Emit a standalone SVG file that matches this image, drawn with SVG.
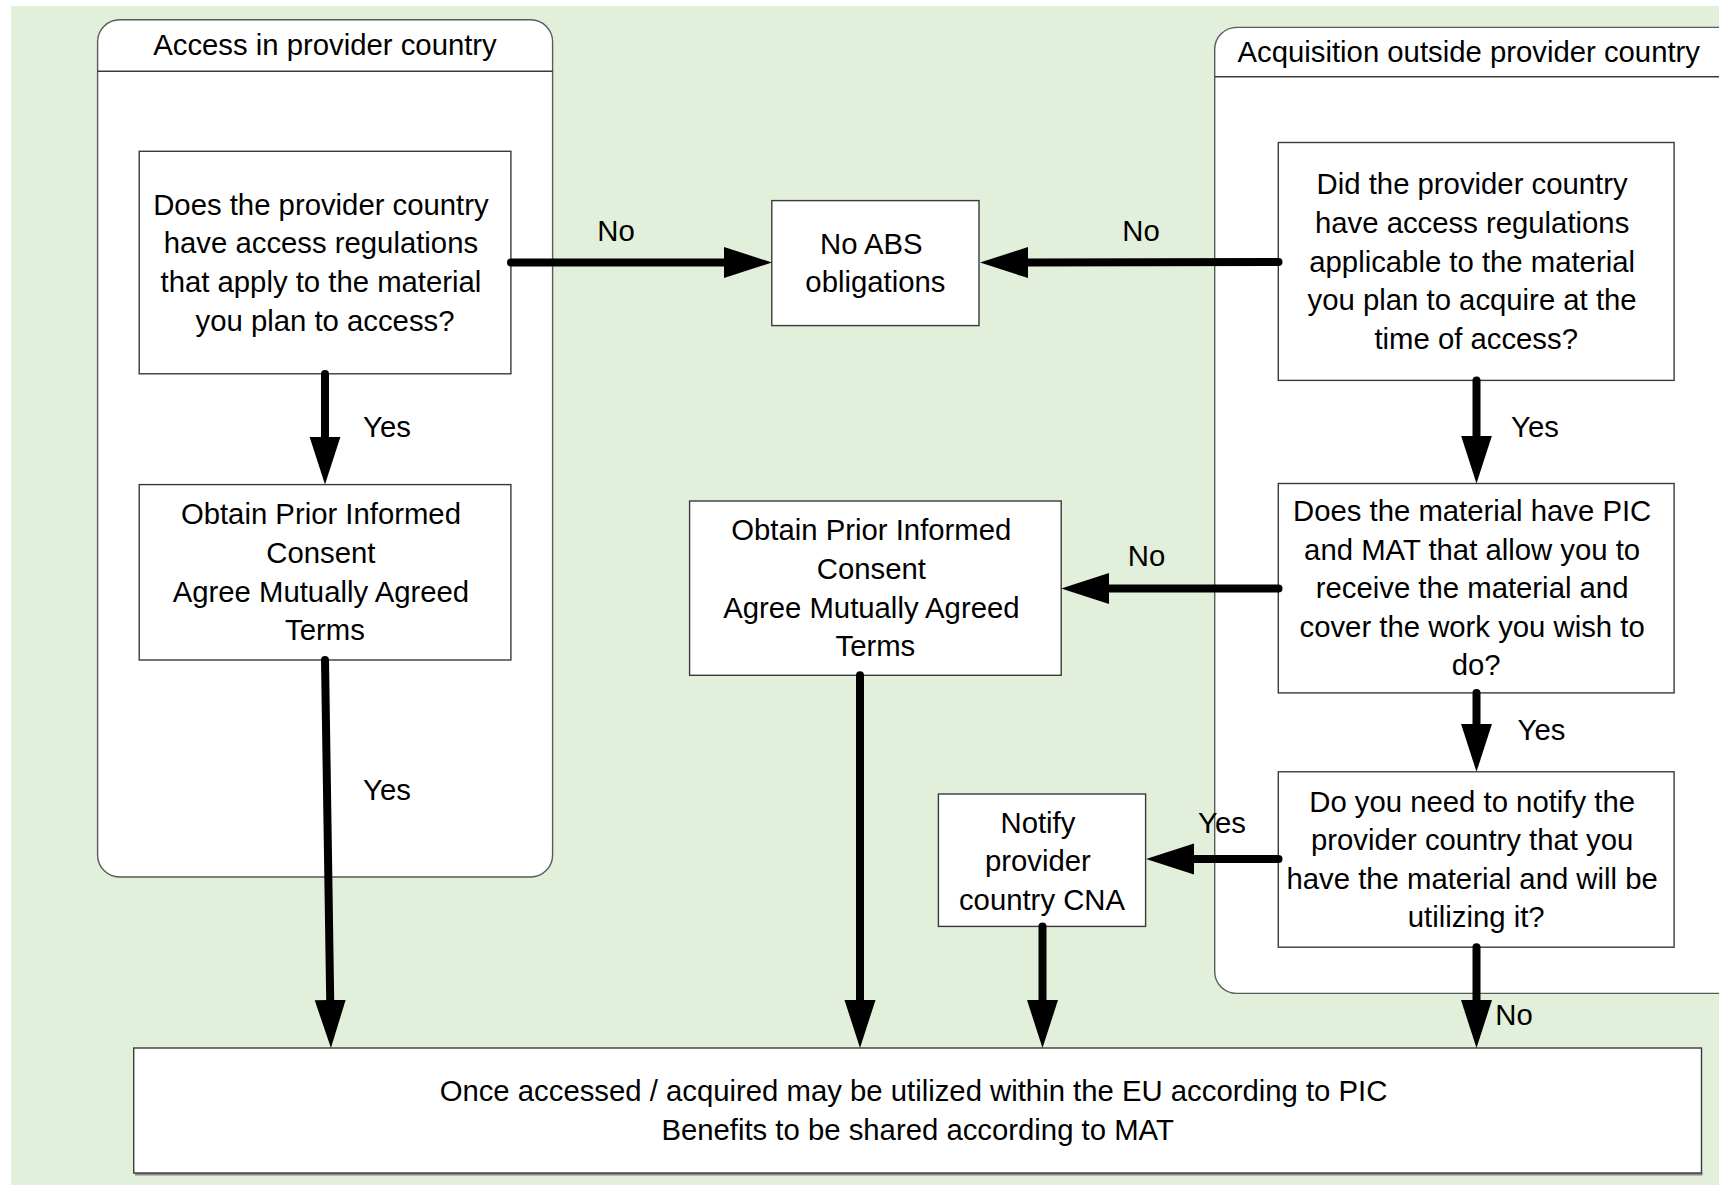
<svg xmlns="http://www.w3.org/2000/svg" width="1719" height="1185" viewBox="0 0 1719 1185">
  <style>
    text { font-family: "Liberation Sans", Arial, sans-serif; font-size: 29.3px; fill: #000; }
    .c { text-anchor: middle; }
    .box { fill: #fff; stroke: #3a3a3a; stroke-width: 1.4; }
    .lane { fill: #fff; stroke: #5a5a5a; stroke-width: 1.4; }
    .lane-rule { stroke: #3a3a3a; stroke-width: 1.4; fill: none; }
    .flow { fill: none; stroke: #000; stroke-width: 8; stroke-linecap: round; marker-end: url(#head); }
  </style>
  <defs>
    <marker id="head" viewBox="0 -16 48 32" refX="0" refY="0" markerWidth="48" markerHeight="32" markerUnits="userSpaceOnUse" orient="auto">
      <path d="M0,-15.5 L48,0 L0,15.5 Z" fill="#000"/>
    </marker>
  </defs>

  <!-- page background -->
  <rect x="11" y="6" width="1708" height="1179" fill="#E2EFDA"/>

  <!-- swimlane: access in provider country -->
  <g id="lane-access">
    <rect class="lane" x="97.6" y="19.7" width="455" height="857.3" rx="22" ry="22"/>
    <line class="lane-rule" x1="97.6" y1="71.3" x2="552.6" y2="71.3"/>
    <text class="c" x="325" y="55">Access in provider country</text>
  </g>

  <!-- swimlane: acquisition outside provider country (runs past the right edge) -->
  <g id="lane-acquisition">
    <rect class="lane" x="1214.7" y="27.4" width="560" height="966" rx="22" ry="22"/>
    <line class="lane-rule" x1="1214.7" y1="76.7" x2="1719" y2="76.7"/>
    <text x="1237.5" y="61.5">Acquisition outside provider country</text>
  </g>

  <g id="q-access-regs">
    <rect class="box" x="139.2" y="151.3" width="371.7" height="222.5"/>
    <text class="c" x="325">
      <tspan x="325" y="214.7">Does the provider country</tspan>
      <tspan x="325" y="253.3">have access regulations</tspan>
      <tspan x="325" y="291.9">that apply to the material</tspan>
      <tspan x="325" y="330.5">you plan to access?</tspan>
    </text>
  </g>

  <g id="no-abs">
    <rect class="box" x="771.8" y="200.6" width="207.2" height="125"/>
    <text class="c">
      <tspan x="875.4" y="253.8">No ABS</tspan>
      <tspan x="875.4" y="292.4">obligations</tspan>
    </text>
  </g>

  <g id="q-regs-at-access">
    <rect class="box" x="1278.3" y="142.5" width="395.8" height="237.9"/>
    <text class="c">
      <tspan x="1476.2" y="194.3">Did the provider country</tspan>
      <tspan x="1476.2" y="232.9">have access regulations</tspan>
      <tspan x="1476.2" y="271.5">applicable to the material</tspan>
      <tspan x="1476.2" y="310.1">you plan to acquire at the</tspan>
      <tspan x="1476.2" y="348.7">time of access?</tspan>
    </text>
  </g>

  <g id="pic-mat-left">
    <rect class="box" x="139.2" y="484.6" width="371.7" height="175.4"/>
    <text class="c">
      <tspan x="325" y="524.4">Obtain Prior Informed</tspan>
      <tspan x="325" y="563">Consent</tspan>
      <tspan x="325" y="601.6">Agree Mutually Agreed</tspan>
      <tspan x="325" y="640.2">Terms</tspan>
    </text>
  </g>

  <g id="pic-mat-middle">
    <rect class="box" x="689.6" y="501" width="371.6" height="174.3"/>
    <text class="c">
      <tspan x="875.4" y="540.3">Obtain Prior Informed</tspan>
      <tspan x="875.4" y="578.9">Consent</tspan>
      <tspan x="875.4" y="617.5">Agree Mutually Agreed</tspan>
      <tspan x="875.4" y="656.1">Terms</tspan>
    </text>
  </g>

  <g id="q-pic-mat">
    <rect class="box" x="1278.3" y="483.5" width="395.8" height="209.4"/>
    <text class="c">
      <tspan x="1476.2" y="521">Does the material have PIC</tspan>
      <tspan x="1476.2" y="559.6">and MAT that allow you to</tspan>
      <tspan x="1476.2" y="598.2">receive the material and</tspan>
      <tspan x="1476.2" y="636.8">cover the work you wish to</tspan>
      <tspan x="1476.2" y="675.4">do?</tspan>
    </text>
  </g>

  <g id="q-notify">
    <rect class="box" x="1278.3" y="771.8" width="395.8" height="175.4"/>
    <text class="c">
      <tspan x="1476.2" y="811.6">Do you need to notify the</tspan>
      <tspan x="1476.2" y="850.2">provider country that you</tspan>
      <tspan x="1476.2" y="888.8">have the material and will be</tspan>
      <tspan x="1476.2" y="927.4">utilizing it?</tspan>
    </text>
  </g>

  <g id="notify-cna">
    <rect class="box" x="938.4" y="794" width="207.2" height="132.4"/>
    <text class="c">
      <tspan x="1042" y="832.6">Notify</tspan>
      <tspan x="1042" y="871.2">provider</tspan>
      <tspan x="1042" y="909.8">country CNA</tspan>
    </text>
  </g>

  <g id="utilization">
    <line x1="135" y1="1174.2" x2="1702.5" y2="1174.2" stroke="#8a8a8a" stroke-width="2.4"/>
    <rect class="box" x="133.7" y="1048" width="1567.8" height="125"/>
    <text class="c">
      <tspan x="917.6" y="1101.2">Once accessed / acquired may be utilized within the EU according to PIC</tspan>
      <tspan x="917.6" y="1139.8">Benefits to be shared according to MAT</tspan>
    </text>
  </g>

  <!-- flow connectors -->
  <g id="connectors">
    <path class="flow" d="M511,262.5 L724,262.5"/>
    <path class="flow" d="M1278.5,262 L1028,262.5"/>
    <path class="flow" d="M325,374 L325,436.6"/>
    <path class="flow" d="M325,660 L330.2,1000"/>
    <path class="flow" d="M1476.5,380.4 L1476.5,435.5"/>
    <path class="flow" d="M1278.5,588.5 L1109.2,588.5"/>
    <path class="flow" d="M1476.5,693 L1476.5,723.8"/>
    <path class="flow" d="M1278.5,859 L1194,859"/>
    <path class="flow" d="M860,675.3 L860,1000"/>
    <path class="flow" d="M1042.5,926.4 L1042.5,1000"/>
    <path class="flow" d="M1476.5,947.2 L1476.5,1000"/>
  </g>

  <g id="connector-labels">
    <text class="c" x="616" y="240.5">No</text>
    <text class="c" x="1141" y="240.5">No</text>
    <text class="c" x="387" y="437">Yes</text>
    <text class="c" x="387" y="800">Yes</text>
    <text class="c" x="1535" y="437">Yes</text>
    <text class="c" x="1146.6" y="566">No</text>
    <text class="c" x="1541.5" y="740">Yes</text>
    <text class="c" x="1222" y="833">Yes</text>
    <text class="c" x="1514" y="1025">No</text>
  </g>
</svg>
